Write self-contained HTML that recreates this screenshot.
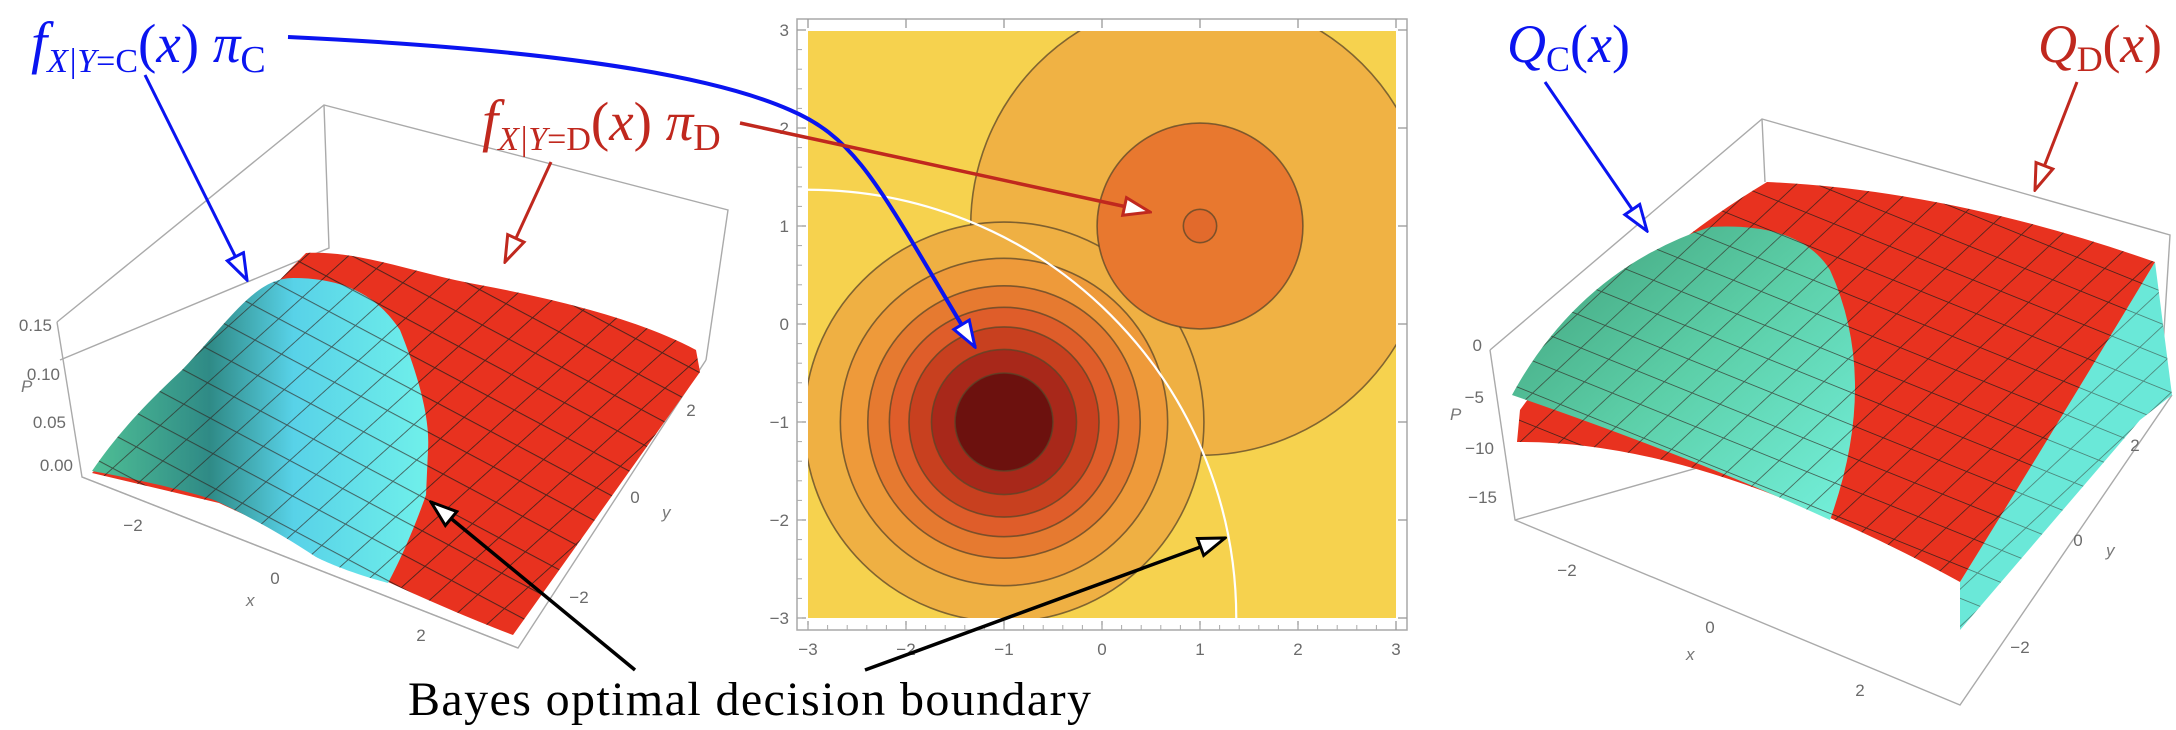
<!DOCTYPE html>
<html><head><meta charset="utf-8"><style>
html,body{margin:0;padding:0;background:#fff;overflow:hidden;width:2176px;height:730px;}
svg{display:block;}
.tk{font-family:"Liberation Sans",sans-serif;font-size:17px;fill:#6b6b6b;}
.ax{font-family:"Liberation Sans",sans-serif;font-size:17px;fill:#777;font-style:italic;}
.lab{font-family:"Liberation Serif",serif;}
</style></head><body>
<svg id="root" width="2176" height="730" viewBox="0 0 2176 730" xmlns="http://www.w3.org/2000/svg">
<defs>
  <marker id="mb" markerUnits="userSpaceOnUse" markerWidth="30" markerHeight="24" refX="28" refY="11" orient="auto"><path d="M2,2 L28,11 L2,20 Z" fill="#fff" stroke="#0a14f0" stroke-width="3"/></marker>
  <marker id="mr" markerUnits="userSpaceOnUse" markerWidth="30" markerHeight="24" refX="28" refY="11" orient="auto"><path d="M2,2 L28,11 L2,20 Z" fill="#fff" stroke="#c0281e" stroke-width="3"/></marker>
  <marker id="mk" markerUnits="userSpaceOnUse" markerWidth="30" markerHeight="24" refX="28" refY="11" orient="auto"><path d="M2,2 L28,11 L2,20 Z" fill="#fff" stroke="#000" stroke-width="3"/></marker>
  <pattern id="gridL" width="30" height="30" patternUnits="userSpaceOnUse" patternTransform="rotate(28) skewX(-20)"><path d="M0,0 H30 M0,0 V30" stroke="#2e1f1a" stroke-width="2" fill="none" opacity="0.8"/></pattern>
  <pattern id="gridR" width="30" height="30" patternUnits="userSpaceOnUse" patternTransform="rotate(22) skewX(-25)"><path d="M0,0 H30 M0,0 V30" stroke="#2e1f1a" stroke-width="1.9" fill="none" opacity="0.8"/></pattern>
  <linearGradient id="cyL" x1="0" y1="0" x2="1" y2="0"><stop offset="0" stop-color="#4fbf95"/><stop offset="0.35" stop-color="#2f8a86"/><stop offset="0.6" stop-color="#58d2e8"/><stop offset="1" stop-color="#70f0ea"/></linearGradient>
  <linearGradient id="cyR" x1="0" y1="0" x2="1" y2="1"><stop offset="0" stop-color="#3f9e78"/><stop offset="0.5" stop-color="#5ccfa8"/><stop offset="1" stop-color="#74f0dc"/></linearGradient>
  <clipPath id="plotClip"><rect x="808" y="31" width="588" height="587"/></clipPath>
</defs>

<!-- LEFT 3D PLOT -->
<g>
  <g stroke="#aaa" stroke-width="1.4" fill="none">
    <path d="M57,322 L324,105 L728,210 L706,360"/>
    <path d="M324,105 L329,248 L60,360"/>
    <path d="M57,322 L82,477 L518,648 L706,360"/>
  </g>
  <path d="M306,253 C360,250 420,275 480,285 C560,300 640,320 696,350 L700,372 L513,635 C420,600 300,540 219,503 L92,473 Z" fill="#e8321f"/>
  <path d="M306,253 C360,250 420,275 480,285 C560,300 640,320 696,350 L700,372 L513,635 C420,600 300,540 219,503 L92,473 Z" fill="url(#gridL)"/>
  <path d="M92,471 C120,430 150,400 182,370 C230,320 255,278 293,278 C350,278 380,300 400,330 C420,380 430,420 428,450 L426,495 C410,540 395,570 388,583 C340,570 316,557 316,557 C260,520 214,500 214,500 C170,485 92,471 92,471 Z" fill="url(#cyL)"/>
  <path d="M92,471 C120,430 150,400 182,370 C230,320 255,278 293,278 C350,278 380,300 400,330 C420,380 430,420 428,450 L426,495 C410,540 395,570 388,583 C340,570 316,557 316,557 C260,520 214,500 214,500 C170,485 92,471 92,471 Z" fill="url(#gridL)" opacity="0.8"/>
  <path d="M82,477 L518,648" stroke="#aaa" stroke-width="1.4"/>
  <g id="leftTicks"></g>
  <text class="ax" x="21" y="392">P</text>
  <text class="ax" x="246" y="606">x</text>
  <text class="ax" x="662" y="518">y</text>
</g>

<!-- CONTOUR PLOT -->
<g id="contour">
  <rect x="808" y="31" width="588" height="587" fill="#f6d24e"/>
  <g id="rings" clip-path="url(#plotClip)"></g>
  <g id="cframe"></g>
</g>

<!-- RIGHT 3D PLOT -->
<g>
  <g stroke="#aaa" stroke-width="1.4" fill="none">
    <path d="M1490,350 L1762,119 L2170,235 L2160,395"/>
    <path d="M1762,119 L1765,182"/>
    <path d="M1490,350 L1515,520 L1960,705 L2172,395"/>
    <path d="M1515,520 L1830,430 L1965,520"/>
  </g>
  <path d="M1960,582 L2155,262 L2172,395 L2140,420 L1960,630 Z" fill="#6ae8d8"/>
  <path d="M1960,582 L2155,262 L2172,395 L2140,420 L1960,630 Z" fill="url(#gridR)" opacity="0.6"/>
  <path d="M1767,182 Q1950,190 2155,262 Q2060,420 1960,582 Q1700,440 1517,442 L1520,410 Q1620,270 1767,182 Z" fill="#e8321f"/>
  <path d="M1767,182 Q1950,190 2155,262 Q2060,420 1960,582 Q1700,440 1517,442 L1520,410 Q1620,270 1767,182 Z" fill="url(#gridR)"/>
  <path d="M1512,395 Q1580,270 1710,227 Q1800,222 1830,270 Q1880,380 1830,520 Q1700,460 1512,395 Z" fill="url(#cyR)"/>
  <path d="M1512,395 Q1580,270 1710,227 Q1800,222 1830,270 Q1880,380 1830,520 Q1700,460 1512,395 Z" fill="url(#gridR)" opacity="0.8"/>
  <g id="rightTicks"></g>
  <text class="ax" x="1450" y="420">P</text>
  <text class="ax" x="1686" y="660">x</text>
  <text class="ax" x="2106" y="556">y</text>
</g>

<!-- ANNOTATIONS -->
<g>
  <text class="lab" x="31" y="62" fill="#0a14f0"><tspan font-style="italic" font-size="58">f</tspan><tspan font-style="italic" font-size="34" dy="10">X|Y</tspan><tspan font-size="34">=C</tspan><tspan font-size="55" dy="-10">(</tspan><tspan font-style="italic" font-size="55">x</tspan><tspan font-size="55">) </tspan><tspan font-style="italic" font-size="55">π</tspan><tspan font-size="38" dy="10">C</tspan></text>
  <text class="lab" x="482" y="140" fill="#c0281e"><tspan font-style="italic" font-size="58">f</tspan><tspan font-style="italic" font-size="34" dy="10">X|Y</tspan><tspan font-size="34">=D</tspan><tspan font-size="55" dy="-10">(</tspan><tspan font-style="italic" font-size="55">x</tspan><tspan font-size="55">) </tspan><tspan font-style="italic" font-size="55">π</tspan><tspan font-size="38" dy="10">D</tspan></text>
  <text class="lab" x="1507" y="62" fill="#0a14f0"><tspan font-style="italic" font-size="54">Q</tspan><tspan font-size="36" dy="9">C</tspan><tspan font-size="54" dy="-9">(</tspan><tspan font-style="italic" font-size="54">x</tspan><tspan font-size="54">)</tspan></text>
  <text class="lab" x="2038" y="62" fill="#c0281e" textLength="124"><tspan font-style="italic" font-size="54">Q</tspan><tspan font-size="36" dy="9">D</tspan><tspan font-size="54" dy="-9">(</tspan><tspan font-style="italic" font-size="54">x</tspan><tspan font-size="54">)</tspan></text>
  <text class="lab" x="408" y="715" font-size="48" fill="#000" textLength="683">Bayes optimal decision boundary</text>

  <path d="M288,37 C520,48 700,70 790,110 C860,140 880,190 975,347" stroke="#0a14f0" stroke-width="4" fill="none" marker-end="url(#mb)"/>
  <path d="M145,75 L247,280" stroke="#0a14f0" stroke-width="3" fill="none" marker-end="url(#mb)"/>
  <path d="M551,162 L505,262" stroke="#c0281e" stroke-width="3" fill="none" marker-end="url(#mr)"/>
  <path d="M740,123 L1150,212" stroke="#c0281e" stroke-width="3.5" fill="none" marker-end="url(#mr)"/>
  <path d="M635,670 L431,502" stroke="#000" stroke-width="3.5" fill="none" marker-end="url(#mk)"/>
  <path d="M865,670 L1225,538" stroke="#000" stroke-width="3.5" fill="none" marker-end="url(#mk)"/>
  <path d="M1545,82 L1647,231" stroke="#0a14f0" stroke-width="3" fill="none" marker-end="url(#mb)"/>
  <path d="M2077,82 L2035,190" stroke="#c0281e" stroke-width="3" fill="none" marker-end="url(#mr)"/>
</g>
</svg>
<script>
var NS="http://www.w3.org/2000/svg";
// contour data
var centerC=[-1,-1];
var radiiC=[2.04,1.67,1.39,1.17,0.97,0.74,0.5];
var colorsC=["#efb043","#ee9a3a","#e67a30","#df5d2a","#c8401f","#a8281a","#6c110e"];
var centerD=[1,1];
var radiiD=[2.34,1.05,0.17];
var colorsD=["#f0b244","#e8782f","#e26a2c"];
var boundaryCenter=[-3,-3];
var boundaryRadius=4.37;
var xTicks=[-3,-2,-1,0,1,2,3];
var yTicks=[-3,-2,-1,0,1,2,3];
var leftZTicks=["0.15","0.10","0.05","0.00"];
var rightZTicks=["0","−5","−10","−15"];
var tri3D=["−2","0","2"];

function sx(v){return 1102+98*v;}
function sy(v){return 324-98*v;}
function mk(tag,attrs,parent){var e=document.createElementNS(NS,tag);for(var k in attrs)e.setAttribute(k,attrs[k]);parent.appendChild(e);return e;}

var rings=document.getElementById('rings');
function drawSet(c,radii,cols,nm){
  for(var i=0;i<radii.length;i++){
    var e=mk('circle',{cx:sx(c[0]),cy:sy(c[1]),r:radii[i]*98,fill:cols[i],stroke:"#5a4628","stroke-width":1.6,"stroke-opacity":0.75},rings);
    
    
  }
}
drawSet(centerD,radiiD.slice(0,1),colorsD.slice(0,1),'d');
drawSet(centerC,radiiC,colorsC,'c');
drawSet(centerD,radiiD.slice(1),colorsD.slice(1),'d-inner');
var b=mk('circle',{cx:sx(boundaryCenter[0]),cy:sy(boundaryCenter[1]),r:boundaryRadius*98,fill:"none",stroke:"#fff","stroke-width":2.2},rings);



var fr=document.getElementById('cframe');
var f=mk('rect',{x:797,y:19,width:610,height:611,fill:"none",stroke:"#a8a8a8","stroke-width":1.5},fr);


xTicks.forEach(function(v){
  mk('line',{x1:sx(v),x2:sx(v),y1:630,y2:621,stroke:"#999","stroke-width":1.3},fr);
  mk('line',{x1:sx(v),x2:sx(v),y1:19,y2:28,stroke:"#999","stroke-width":1.3},fr);
  var t=mk('text',{x:sx(v),y:655,"text-anchor":"middle","class":"tk"},fr);
  t.textContent=(v<0?"−"+(-v):""+v);
  
  
});
yTicks.forEach(function(v){
  mk('line',{x1:797,x2:806,y1:sy(v),y2:sy(v),stroke:"#999","stroke-width":1.3},fr);
  mk('line',{x1:1407,x2:1398,y1:sy(v),y2:sy(v),stroke:"#999","stroke-width":1.3},fr);
  var t=mk('text',{x:789,y:sy(v)+6,"text-anchor":"end","class":"tk"},fr);
  t.textContent=(v<0?"−"+(-v):""+v);
  
  
});
for(var k=-3;k<=3;k+=0.2){
  mk('line',{x1:sx(k),x2:sx(k),y1:630,y2:625,stroke:"#aaa","stroke-width":1},fr);
  mk('line',{x1:797,x2:802,y1:sy(k),y2:sy(k),stroke:"#aaa","stroke-width":1},fr);
}

// 3D axis labels
function lbl(g,txt,x,y,anchor,nm){
  var t=mk('text',{x:x,y:y,"text-anchor":anchor,"class":"tk"},g);
  t.textContent=txt;
  
  
}
var lt=document.getElementById('leftTicks');
var lzY=[331,380,428,471], lzX=[52,60,66,73];
leftZTicks.forEach(function(s,i){lbl(lt,s,lzX[i],lzY[i],"end","left-z-tick-label");});
var lxP=[[133,531],[275,584],[421,641]], lyP=[[579,603],[635,503],[691,416]];
tri3D.forEach(function(s,i){lbl(lt,s,lxP[i][0],lxP[i][1],"middle","left-x-tick-label");lbl(lt,s,lyP[i][0],lyP[i][1],"middle","left-y-tick-label");});
var rt=document.getElementById('rightTicks');
var rzY=[351,403,454,503], rzX=[1482,1484,1494,1497];
rightZTicks.forEach(function(s,i){lbl(rt,s,rzX[i],rzY[i],"end","right-z-tick-label");});
var rxP=[[1567,576],[1710,633],[1860,696]], ryP=[[2020,653],[2078,546],[2135,451]];
tri3D.forEach(function(s,i){lbl(rt,s,rxP[i][0],rxP[i][1],"middle","right-x-tick-label");lbl(rt,s,ryP[i][0],ryP[i][1],"middle","right-y-tick-label");});
</script>
</body></html>
